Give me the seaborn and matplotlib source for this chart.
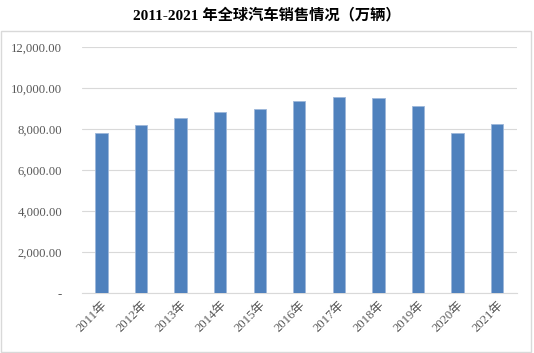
import seaborn as sns
import matplotlib.pyplot as plt
import pandas as pd
from matplotlib.patches import Rectangle
from matplotlib.ticker import FuncFormatter

# 数据（万辆）
years = ['2011年', '2012年', '2013年', '2014年', '2015年', '2016年',
         '2017年', '2018年', '2019年', '2020年', '2021年']
sales = [7800, 8210, 8560, 8830, 8960, 9380, 9560, 9500, 9140, 7790, 8260]
title = '2011-2021 年全球汽车销售情况（万辆）'

df = pd.DataFrame({'year': years, 'sales': sales})

sns.set_style("white")
plt.rcParams['font.family'] = ['Liberation Serif', 'Noto Sans CJK SC', 'DejaVu Sans']

fig = plt.figure(figsize=(5.34, 3.53), dpi=100)
ax = fig.add_axes([0.153, 0.169, 0.815, 0.698])

sns.barplot(data=df, x='year', y='sales', color='#4f81bd', saturation=1,
            width=0.31, edgecolor='#9db7da', linewidth=0.6, ax=ax, zorder=3)

ax.set_ylim(0, 12000)
ax.set_yticks(range(0, 12001, 2000))
ax.yaxis.set_major_formatter(FuncFormatter(lambda v, p: '-' if v == 0 else f'{v:,.2f}'))
ax.grid(axis='y', color='#d9d9d9', linewidth=0.8, zorder=0)
ax.set_xlabel('')
ax.set_ylabel('')
for s in ['top', 'right', 'left']:
    ax.spines[s].set_visible(False)
ax.spines['bottom'].set_color('#d9d9d9')
ax.tick_params(axis='both', length=0, labelsize=9.2, colors='#595959', pad=14)
ax.tick_params(axis='x', pad=4)
plt.setp(ax.get_xticklabels(), rotation=45, ha='right', rotation_mode='anchor')

# 外框
fig.patches.append(Rectangle((0.002, 0.004), 0.993, 0.908, transform=fig.transFigure,
                             fill=False, edgecolor='#d9d9d9', linewidth=1))

fig.text(0.5, 0.957, title, ha='center', va='center', fontsize=11,
         fontweight='bold', color='black')

plt.savefig('out.png', dpi=100)
